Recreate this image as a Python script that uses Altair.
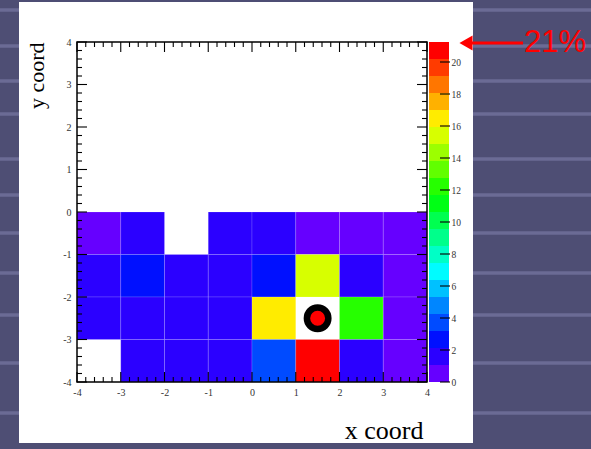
import altair as alt
import pandas as pd

# ---------------- data ----------------
x_lo_edges = [-4, -3, -2, -1, 0, 1, 2, 3]          # lower x edge of each column
row_lo_edges = [-1, -2, -3, -4]                    # lower y edge of each row (top row first)
row_values = [                                     # None = empty (white) bin
    [0.6, 1.5, None, 1.5, 1.6, 0.8, 0.7, 0.6],
    [1.5, 2.6, 1.8, 1.8, 2.5, 15.4, 1.7, 0.9],
    [1.4, 1.6, 1.6, 1.6, 16.4, None, 12.2, 0.9],
    [None, 1.7, 1.7, 1.7, 3.6, 20.8, 1.8, 0.9],
]
source_x = [1.5]
source_y = [-2.5]
axis_major = [-4, -3, -2, -1, 0, 1, 2, 3, 4]
axis_minor = [round(-4 + 0.2 * i, 1) for i in range(41) if i % 5 != 0]
z_max = 21.25
palette = ["#6600ff", "#2b00ff", "#0010ff", "#004bff", "#0086ff",
           "#00c1ff", "#00fcff", "#00ffc6", "#00ff8b", "#00ff50",
           "#00ff15", "#26ff00", "#61ff00", "#9cff00", "#d7ff00",
           "#ffec00", "#ffb100", "#ff7600", "#ff3b00", "#ff0000"]
colorbar_labels = [0, 2, 4, 6, 8, 10, 12, 14, 16, 18, 20]
peak_label = "21%"

# ---------------- tables ----------------
cells = []
for yb, row in zip(row_lo_edges, row_values):
    for xb, v in zip(x_lo_edges, row):
        if v is not None:
            cells.append({"x0": xb, "x1": xb + 1, "y0": yb, "y1": yb + 1, "z": v})
cells = pd.DataFrame(cells)

n_bands = len(palette)
bands = pd.DataFrame({
    "lo": [z_max * i / n_bands for i in range(n_bands)],
    "hi": [z_max * (i + 1) / n_bands for i in range(n_bands)],
})
bands["mid"] = (bands["lo"] + bands["hi"]) / 2

src = pd.DataFrame({"x": source_x, "y": source_y})
one = alt.Data(values=[{"k": 0}])

W, H = 350, 340
SERIF = "Liberation Serif"
xs = alt.Scale(domain=[-4, 4], nice=False, zero=False)
ys = alt.Scale(domain=[-4, 4], nice=False, zero=False)
zs = alt.Scale(type="quantize", domain=[0, z_max], range=palette, nice=False, zero=False)
cbs = alt.Scale(domain=[0, z_max], nice=False, zero=False)
hyphen = "datum.value < 0 ? '-' + abs(datum.value) : '' + datum.value"

# ---------------- decoration: slide stripes and white panel ----------------
stripe_rows = [10, 46, 81, 114, 159, 195, 233, 273, 315, 363, 413]
stripes = [
    alt.Chart(one).mark_rule(color="#6b6b95", strokeWidth=3.5).encode(
        x=alt.value(-77), x2=alt.value(514), y=alt.value(r - 42))
    for r in stripe_rows
]
panel = alt.Chart(one).mark_rect(color="white").encode(
    x=alt.value(-58), x2=alt.value(396), y=alt.value(-40), y2=alt.value(401))

# ---------------- heat map ----------------
heat = alt.Chart(cells).mark_rect(stroke="white", strokeOpacity=0.25, strokeWidth=0.6).encode(
    x=alt.X("x0:Q", scale=xs,
            axis=alt.Axis(orient="bottom", values=axis_major, ticks=False, tickSize=0,
                          domain=False, grid=False,
                          labelExpr=hyphen, labelFont=SERIF, labelFontSize=10, labelColor="#333",
                          labelPadding=5, labelFlush=False, labelOverlap=False,
                          title="x coord", titleFont=SERIF, titleFontSize=26,
                          titleFontWeight="normal", titleColor="black",
                          titleAnchor="end", titleAlign="right", titleBaseline="alphabetic",
                          titleX=346, titleY=56, zindex=2)),
    x2="x1:Q",
    y=alt.Y("y0:Q", scale=ys,
            axis=alt.Axis(orient="left", values=axis_major, ticks=False, tickSize=0,
                          domain=False, grid=False,
                          labelExpr=hyphen, labelFont=SERIF, labelFontSize=10, labelColor="#333",
                          labelPadding=6, labelFlush=False, labelOverlap=False,
                          title="y coord", titleFont=SERIF, titleFontSize=22,
                          titleFontWeight="normal", titleColor="black",
                          titleAngle=270, titleAlign="right", titleBaseline="middle",
                          titleX=-41, titleY=0, zindex=2)),
    y2="y1:Q",
    color=alt.Color("z:Q", scale=zs, legend=None),
)

marker = alt.Chart(src).mark_point(shape="circle", filled=True, fill="#ff0000", stroke="#000000",
                                   strokeWidth=6.5, size=460, opacity=1).encode(
    x=alt.X("x:Q", scale=xs, axis=None), y=alt.Y("y:Q", scale=ys, axis=None))


def xticks(vals, length, top):
    d = pd.DataFrame({"p": vals})
    if top:
        yy, yy2 = alt.value(0), alt.value(length)
    else:
        yy, yy2 = alt.value(H), alt.value(H - length)
    return alt.Chart(d).mark_rule(color="black", strokeWidth=1.1).encode(
        x=alt.X("p:Q", scale=xs, axis=None), y=yy, y2=yy2)


def yticks(vals, length, right):
    d = pd.DataFrame({"p": vals})
    if right:
        xx, xx2 = alt.value(W), alt.value(W - length)
    else:
        xx, xx2 = alt.value(0), alt.value(length)
    return alt.Chart(d).mark_rule(color="black", strokeWidth=1.1).encode(
        y=alt.Y("p:Q", scale=ys, axis=None), x=xx, x2=xx2)


tick_layers = [
    xticks(axis_major, 10, False), xticks(axis_minor, 5, False),
    xticks(axis_major, 10, True), xticks(axis_minor, 5, True),
    yticks(axis_major, 10, False), yticks(axis_minor, 5, False),
    yticks(axis_major, 10, True), yticks(axis_minor, 5, True),
]

frame = alt.Chart(one).mark_rect(filled=False, stroke="black", strokeWidth=1.5).encode(
    x=alt.value(0), x2=alt.value(W), y=alt.value(0), y2=alt.value(H))

# ---------------- colour bar ----------------
cbar = alt.Chart(bands).mark_rect().encode(
    x=alt.value(352), x2=alt.value(372),
    y=alt.Y("lo:Q", scale=cbs,
            axis=alt.Axis(orient="right", offset=22, values=colorbar_labels, ticks=False,
                          tickSize=0, domain=False, grid=False, labelFont=SERIF,
                          labelFontSize=9.5, labelColor="#333", labelPadding=2,
                          labelFlush=False, labelOverlap=False, title=None, zindex=2)),
    y2="hi:Q",
    color=alt.Color("mid:Q", scale=zs, legend=None),
)
cbar_ticks = alt.Chart(pd.DataFrame({"v": colorbar_labels})).mark_rule(
    color="black", strokeWidth=1.1).encode(
    y=alt.Y("v:Q", scale=cbs, axis=None), x=alt.value(363), x2=alt.value(373))

# ---------------- red annotation ----------------
arrow_line = alt.Chart(one).mark_rule(color="#ff0000", strokeWidth=3).encode(
    x=alt.value(390), x2=alt.value(446), y=alt.value(1))
arrow_head = alt.Chart(one).mark_point(shape="triangle-left", filled=True, color="#ff0000",
                                       size=230, opacity=1).encode(
    x=alt.value(389), y=alt.value(1))
peak_text = alt.Chart(one).mark_text(text=peak_label, color="#ff0000", font="Liberation Sans",
                                     fontSize=31, align="left", baseline="alphabetic").encode(
    x=alt.value(447), y=alt.value(10))

chart = alt.layer(
    *stripes, panel, heat, marker, *tick_layers, frame,
    cbar, cbar_ticks, arrow_line, arrow_head, peak_text
).resolve_scale(
    y="independent"
).resolve_axis(
    x="independent", y="independent"
).properties(
    width=W, height=H,
    padding={"left": 77, "top": 42, "right": 164, "bottom": 67},
    autosize=alt.AutoSizeParams(type="none"),
    background="#4e4e74",
).configure_view(stroke=None)

chart.save("out.html", embed_options={"renderer": "svg", "actions": False})
